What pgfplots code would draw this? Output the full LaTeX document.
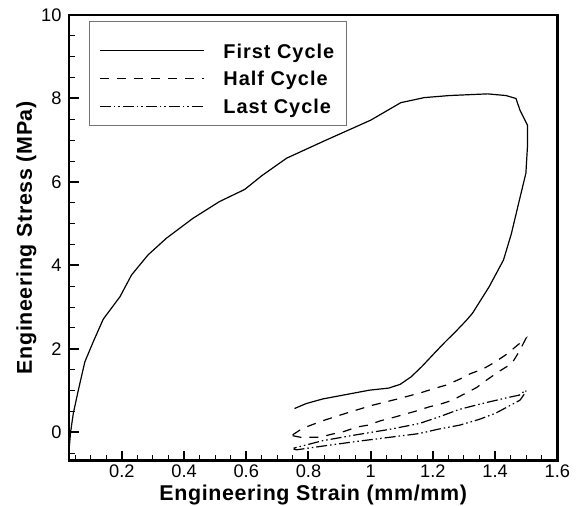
\documentclass[border=0pt]{standalone}
\usepackage{fontspec}
\setmainfont{Liberation Sans}
\newfontfamily\legfont{Liberation Sans}[LetterSpace=5]
\newfontfamily\labfont{Liberation Sans}[LetterSpace=3]
\usepackage{pgfplots}
\pgfplotsset{compat=1.18}
\begin{document}
\begin{tikzpicture}
\useasboundingbox (-69bp,-45.3bp) rectangle (517bp,460.7bp);
\begin{axis}[
  scale only axis,
  width=488.3bp, height=445.7bp,
  xmin=0.03, xmax=1.6, ymin=-0.68, ymax=10,
  axis line style={line width=2.5bp},
  tick pos=left, tick align=inside,
  xtick={0.2,0.4,0.6,0.8,1,1.2,1.4,1.6},
  minor xtick={0.05,0.1,...,1.56},
  ytick={0,2,4,6,8,10},
  minor ytick={-0.5,0,...,9.6},
  major tick length=10bp, minor tick length=6bp,
  major tick style={line width=2bp, black},
  minor tick style={line width=1bp, black},
  /pgf/number format/assume math mode=true,
  ticklabel style={font=\fontsize{18.3}{18.3}\selectfont, inner sep=0pt},
  xticklabel style={yshift=-4bp},
  yticklabel style={xshift=-7.3bp},
  label style={font=\labfont\bfseries\fontsize{21.5}{21.5}\selectfont},
  xlabel={Engineering Strain (mm/mm)},
  ylabel={Engineering Stress (MPa)},
  xlabel style={at={(axis description cs:0.5,-0.0904)}, anchor=base},
  ylabel style={at={(axis description cs:-0.0758,0.5)}, anchor=base},
  no markers,
  legend cell align=left,
  legend image code/.code={\draw[#1] (0bp,0bp) -- (104bp,0bp);},
  legend style={at={(axis description cs:0.0614,0.9360)}, anchor=north west,
    draw=none, fill=none, inner sep=0pt, column sep=19bp, row sep=13.4bp,
    font=\legfont\bfseries\fontsize{20}{20}\selectfont,
    nodes={inner sep=0pt, text height=14.3bp, text depth=0pt}},
]
% First cycle: loading then unloading
\addplot[black, line width=1.2bp, solid] coordinates {
(0.031,-0.35) (0.035,0) (0.044,0.46) (0.060,1.01) (0.081,1.69) (0.108,2.17)
(0.140,2.71) (0.194,3.25) (0.231,3.77) (0.284,4.25) (0.343,4.65) (0.429,5.13)
(0.514,5.53) (0.595,5.82) (0.65,6.15) (0.73,6.57) (0.85,6.98) (1.0,7.48)
(1.097,7.90) (1.172,8.02) (1.253,8.07) (1.376,8.11) (1.435,8.07) (1.467,8.00)
(1.48,7.72) (1.504,7.36) (1.504,6.84) (1.499,6.21) (1.477,5.53) (1.452,4.75)
(1.427,4.13) (1.381,3.49) (1.327,2.85) (1.306,2.67) (1.274,2.42) (1.24,2.17)
(1.204,1.89) (1.165,1.58) (1.13,1.33) (1.095,1.15) (1.058,1.06) (0.996,1.01)
(0.953,0.95) (0.846,0.80) (0.793,0.69) (0.755,0.57)
};
\addlegendentry{First Cycle}
% Half cycle
\addplot[black, line width=1.2bp, dash pattern=on 9bp off 8bp] coordinates {
(0.749,-0.08) (0.775,-0.12) (0.835,-0.12) (0.878,-0.04) (0.910,0.01) (0.958,0.13)
(0.990,0.17) (1.033,0.28) (1.065,0.34) (1.108,0.43) (1.146,0.51) (1.188,0.61)
(1.226,0.68) (1.263,0.77) (1.301,0.92) (1.34,1.07) (1.376,1.27) (1.415,1.47)
(1.454,1.65) (1.48,1.97) (1.499,2.25) (1.469,2.07) (1.437,1.87) (1.397,1.67)
(1.359,1.51) (1.322,1.41) (1.285,1.27) (1.242,1.13) (1.204,1.05) (1.162,0.95)
(1.087,0.80) (1.006,0.65) (0.926,0.47) (0.851,0.29) (0.782,0.10) (0.749,-0.06)
};
\addlegendentry{Half Cycle}
% Last cycle
\addplot[black, line width=1.2bp, dash pattern=on 11bp off 3bp on 1.5bp off 3bp on 1.5bp off 3bp] coordinates {
(0.752,-0.40) (0.761,-0.42) (0.846,-0.33) (0.953,-0.22) (1.06,-0.12) (1.156,-0.03)
(1.22,0.08) (1.285,0.17) (1.349,0.31) (1.402,0.46) (1.445,0.63) (1.48,0.77)
(1.499,0.97) (1.499,1.01) (1.477,0.89) (1.445,0.84) (1.37,0.71) (1.285,0.55)
(1.22,0.37) (1.156,0.21) (1.06,0.07) (0.953,-0.06) (0.846,-0.20) (0.752,-0.38)
};
\addlegendentry{Last Cycle}
\draw[black!55, line width=1bp] (axis description cs:0.0430,0.7510) rectangle (axis description cs:0.5673,0.9865);
\end{axis}
\end{tikzpicture}
\end{document}
